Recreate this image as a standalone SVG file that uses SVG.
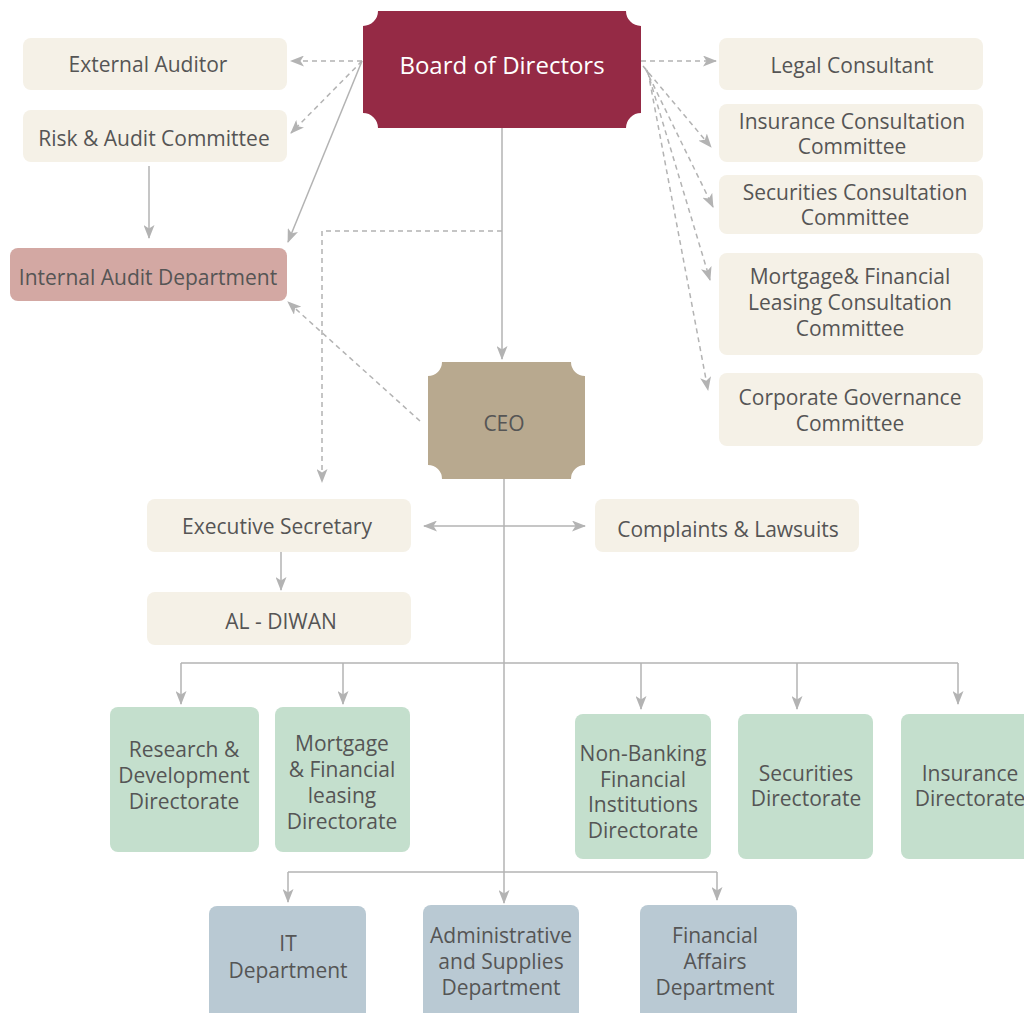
<svg xmlns="http://www.w3.org/2000/svg" width="1024" height="1013" viewBox="0 0 1024 1013">
<style>
text{font-family:"Open Sans","Noto Sans","Liberation Sans",sans-serif;font-size:21px;fill:#555555;text-anchor:middle}
.cream{fill:#f5f1e7}
.green{fill:#c4dfcd}
.blue{fill:#b9c9d3}
.ln{stroke:#b3b3b3;stroke-width:1.5;fill:none}
.ds{stroke:#b3b3b3;stroke-width:1.5;fill:none;stroke-dasharray:5 4}
</style>
<defs>
<marker id="ah" viewBox="0 0 14 11" markerWidth="14" markerHeight="11" refX="13" refY="5.5" orient="auto-start-reverse" markerUnits="userSpaceOnUse">
<path d="M0,0 L14,5.5 L0,11 L3.5,5.5 Z" fill="#b3b3b3"/>
</marker>
</defs>
<rect width="1024" height="1013" fill="#ffffff"/>
<g id="connectors">
<line class="ln" x1="502" y1="128" x2="502" y2="359" marker-end="url(#ah)"/>
<polyline class="ds" points="502,231 322,231 322,482" marker-end="url(#ah)"/>
<line class="ds" x1="362" y1="61" x2="291" y2="61" marker-end="url(#ah)"/>
<line class="ds" x1="362" y1="61" x2="291" y2="133" marker-end="url(#ah)"/>
<line class="ln" x1="362" y1="61" x2="288" y2="242" marker-end="url(#ah)"/>
<line class="ln" x1="149" y1="166" x2="149" y2="238" marker-end="url(#ah)"/>
<line class="ds" x1="420" y1="421" x2="288" y2="302" marker-end="url(#ah)"/>
<line class="ds" x1="641" y1="61" x2="716" y2="61" marker-end="url(#ah)"/>
<line class="ds" x1="643" y1="66" x2="711" y2="147" marker-end="url(#ah)"/>
<line class="ds" x1="645" y1="68" x2="713" y2="207" marker-end="url(#ah)"/>
<line class="ds" x1="647" y1="70" x2="710" y2="280" marker-end="url(#ah)"/>
<line class="ds" x1="648" y1="72" x2="708" y2="390" marker-end="url(#ah)"/>
<line class="ln" x1="504" y1="479" x2="504" y2="903" marker-end="url(#ah)"/>
<line class="ln" x1="424" y1="526" x2="585" y2="526" marker-start="url(#ah)" marker-end="url(#ah)"/>
<line class="ln" x1="281" y1="552" x2="281" y2="590" marker-end="url(#ah)"/>
<line class="ln" x1="181" y1="663" x2="958" y2="663"/>
<line class="ln" x1="181" y1="663" x2="181" y2="704" marker-end="url(#ah)"/>
<line class="ln" x1="343" y1="663" x2="343" y2="704" marker-end="url(#ah)"/>
<line class="ln" x1="641" y1="663" x2="641" y2="709" marker-end="url(#ah)"/>
<line class="ln" x1="797" y1="663" x2="797" y2="709" marker-end="url(#ah)"/>
<line class="ln" x1="958" y1="663" x2="958" y2="704" marker-end="url(#ah)"/>
<line class="ln" x1="288" y1="872" x2="717" y2="872"/>
<line class="ln" x1="288" y1="872" x2="288" y2="902" marker-end="url(#ah)"/>
<line class="ln" x1="717" y1="872" x2="717" y2="900" marker-end="url(#ah)"/>
</g>
<g id="board">
<path d="M378,11 H626 A15,15 0 0 0 641,26 V113 A15,15 0 0 0 626,128 H378 A15,15 0 0 0 363,113 V26 A15,15 0 0 0 378,11 Z" fill="#952a45"/>
<text x="502" y="74" style="fill:#ffffff;font-size:24px">Board of Directors</text>
</g>
<g id="external-auditor"><rect class="cream" x="23" y="38" width="264" height="52" rx="8"/><text x="148" y="72">External Auditor</text></g>
<g id="risk-audit"><rect class="cream" x="23" y="110" width="264" height="52" rx="8"/><text x="154" y="146">Risk &amp; Audit Committee</text></g>
<g id="internal-audit"><rect x="10" y="248" width="277" height="53" rx="8" fill="#d3a8a3"/><text x="148" y="285">Internal Audit Department</text></g>
<g id="legal"><rect class="cream" x="719" y="38" width="264" height="52" rx="8"/><text x="852" y="73">Legal Consultant</text></g>
<g id="insurance-committee"><rect class="cream" x="719" y="104" width="264" height="58" rx="8"/><text x="852" y="129">Insurance Consultation</text><text x="852" y="154">Committee</text></g>
<g id="securities-committee"><rect class="cream" x="719" y="175" width="264" height="59" rx="8"/><text x="855" y="200">Securities Consultation</text><text x="855" y="225">Committee</text></g>
<g id="mortgage-committee"><rect class="cream" x="719" y="253" width="264" height="102" rx="8"/><text x="850" y="284">Mortgage&amp; Financial</text><text x="850" y="310">Leasing Consultation</text><text x="850" y="336">Committee</text></g>
<g id="governance"><rect class="cream" x="719" y="373" width="264" height="73" rx="8"/><text x="850" y="405">Corporate Governance</text><text x="850" y="431">Committee</text></g>
<g id="ceo">
<path d="M442,362 H571 A14,14 0 0 0 585,376 V465 A14,14 0 0 0 571,479 H442 A14,14 0 0 0 428,465 V376 A14,14 0 0 0 442,362 Z" fill="#b8a98f"/>
<text x="504" y="431">CEO</text>
</g>
<g id="exec-secretary"><rect class="cream" x="147" y="499" width="264" height="53" rx="8"/><text x="277" y="534">Executive Secretary</text></g>
<g id="al-diwan"><rect class="cream" x="147" y="592" width="264" height="53" rx="8"/><text x="281" y="629">AL - DIWAN</text></g>
<g id="complaints"><rect class="cream" x="595" y="499" width="264" height="53" rx="8"/><text x="728" y="537">Complaints &amp; Lawsuits</text></g>
<g id="rd"><rect class="green" x="110" y="707" width="149" height="145" rx="8"/><text x="184" y="757">Research &amp;</text><text x="184" y="783">Development</text><text x="184" y="809">Directorate</text></g>
<g id="mortgage-dir"><rect class="green" x="275" y="707" width="135" height="145" rx="8"/><text x="342" y="751">Mortgage</text><text x="342" y="777">&amp; Financial</text><text x="342" y="803">leasing</text><text x="342" y="829">Directorate</text></g>
<g id="nonbanking"><rect class="green" x="575" y="714" width="136" height="145" rx="8"/><text x="643" y="761">Non-Banking</text><text x="643" y="787">Financial</text><text x="643" y="812">Institutions</text><text x="643" y="838">Directorate</text></g>
<g id="securities-dir"><rect class="green" x="738" y="714" width="135" height="145" rx="8"/><text x="806" y="781">Securities</text><text x="806" y="806">Directorate</text></g>
<g id="insurance-dir"><rect class="green" x="901" y="714" width="135" height="145" rx="8"/><text x="970" y="781">Insurance</text><text x="970" y="806">Directorate</text></g>
<g id="it"><rect class="blue" x="209" y="906" width="157" height="120" rx="8"/><text x="288" y="951">IT</text><text x="288" y="978">Department</text></g>
<g id="admin"><rect class="blue" x="423" y="905" width="156" height="120" rx="8"/><text x="501" y="943">Administrative</text><text x="501" y="969">and Supplies</text><text x="501" y="995">Department</text></g>
<g id="financial"><rect class="blue" x="640" y="905" width="157" height="120" rx="8"/><text x="715" y="943">Financial</text><text x="715" y="969">Affairs</text><text x="715" y="995">Department</text></g>
</svg>
